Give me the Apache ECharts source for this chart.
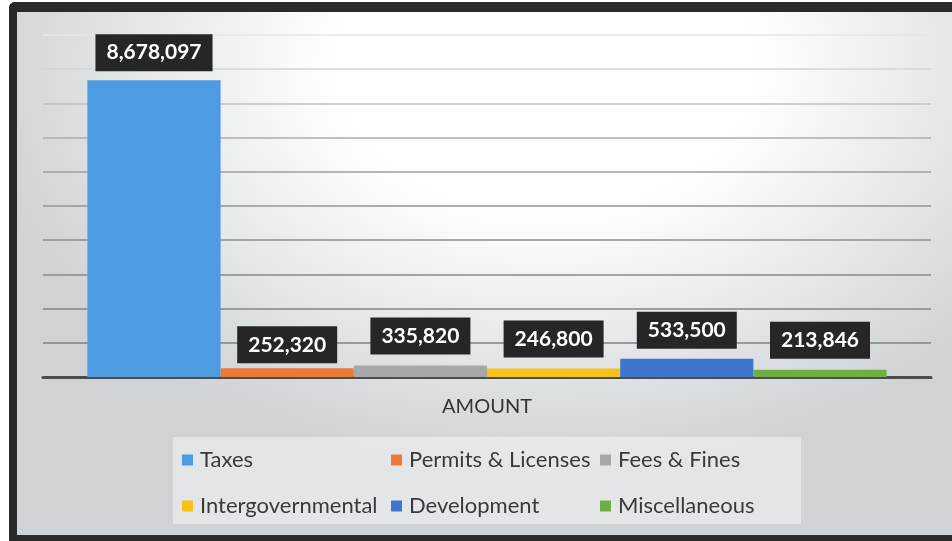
<!DOCTYPE html>
<html>
<head>
<meta charset="utf-8">
<title>Revenue by Source</title>
<script src="https://cdn.jsdelivr.net/npm/echarts@6/dist/echarts.min.js"></script>
<style>
  html, body { margin: 0; padding: 0; width: 952px; height: 541px; overflow: hidden; background: #ffffff; }
  #frame {
    position: absolute; left: 9px; top: 2px;
    width: 960px; height: 523px;
    border-left: 8px solid #2a2a2a; border-top: 10px solid #2a2a2a; border-bottom: 10px solid #2a2a2a;
    border-radius: 6px 0 0 6px;
    background: radial-gradient(ellipse 60% 78% at 55% 10%, #ffffff 0%, #ffffff 36%, #eceeef 60%, #d9dcde 86%, #d0d3d5 100%);
  }
  #chart { position: absolute; left: 0; top: 0; width: 952px; height: 541px; }
</style>
</head>
<body>
<div id="frame"></div>
<div id="chart"></div>
<script>
// Revenue sources, one series per source, grouped under a single category
const categories = ['AMOUNT'];
const seriesNames = ['Taxes', 'Permits & Licenses', 'Fees & Fines', 'Intergovernmental', 'Development', 'Miscellaneous'];
const amounts = [8678097, 252320, 335820, 246800, 533500, 213846];

// value axis range
const axisMin = 0;
const axisMax = 10000000;
const axisStep = 1000000;

// styling
const seriesColors = ['#4d9be0', '#e97a3a', '#a8a8a8', '#f6c11b', '#3f75cc', '#6fad45'];
const labelDistances = [9, 5, 11, 11, 10, 11];
const gridLineColors = ['#7c7c7c', '#808080', '#848484', '#888888', '#8e8e8e', '#949494', '#9e9e9e', '#acacac', '#c0c0c0', '#d4d4d4', '#e6e6e6'];

const FONT = 'Lato, "Open Sans", sans-serif';
const fmt = v => Number(v).toLocaleString('en-US');

const series = seriesNames.map((name, i) => ({
  name: name,
  type: 'bar',
  data: [amounts[i]],
  barGap: '0%',
  barCategoryGap: '10%',
  itemStyle: { color: seriesColors[i] },
  label: {
    show: true,
    position: 'top',
    distance: labelDistances[i],
    formatter: p => fmt(p.value),
    color: '#ffffff',
    fontFamily: FONT,
    fontWeight: 'bold',
    fontSize: 21,
    lineHeight: 21,
    backgroundColor: '#262626',
    padding: [8, 11, 8, 11]
  }
}));

const legendCommon = {
  orient: 'vertical',
  icon: 'rect',
  itemWidth: 11,
  itemHeight: 11,
  itemGap: 24,
  padding: 0,
  top: 449,
  selectedMode: false,
  textStyle: { fontFamily: FONT, fontSize: 22, lineHeight: 22, color: '#3a3a3a', padding: [0, 0, 0, 2] }
};

const chart = echarts.init(document.getElementById('chart'), null, { renderer: 'canvas' });
chart.setOption({
  backgroundColor: 'transparent',
  animation: false,
  grid: { left: 43, right: 21, top: 35, bottom: 164, containLabel: false },
  graphic: [{
    type: 'rect',
    silent: true,
    z: -1,
    shape: { x: 173, y: 437, width: 628, height: 87 },
    style: { fill: 'rgba(255,255,255,0.42)' }
  }],
  legend: [
    Object.assign({}, legendCommon, { left: 182, data: [seriesNames[0], seriesNames[3]] }),
    Object.assign({}, legendCommon, { left: 391, data: [seriesNames[1], seriesNames[4]] }),
    Object.assign({}, legendCommon, { left: 600, data: [seriesNames[2], seriesNames[5]] })
  ],
  xAxis: {
    type: 'category',
    data: categories,
    axisLine: { show: true, lineStyle: { color: '#4c4c4c', width: 3 } },
    axisTick: { show: false },
    axisLabel: { margin: 20, fontFamily: FONT, fontSize: 20, color: '#333333' },
    splitLine: { show: false }
  },
  yAxis: {
    type: 'value',
    min: axisMin,
    max: axisMax,
    interval: axisStep,
    axisLine: { show: false },
    axisTick: { show: false },
    axisLabel: { show: false },
    splitLine: { show: true, lineStyle: { color: gridLineColors, width: 1.5 } }
  },
  series: series
});
</script>
</body>
</html>
